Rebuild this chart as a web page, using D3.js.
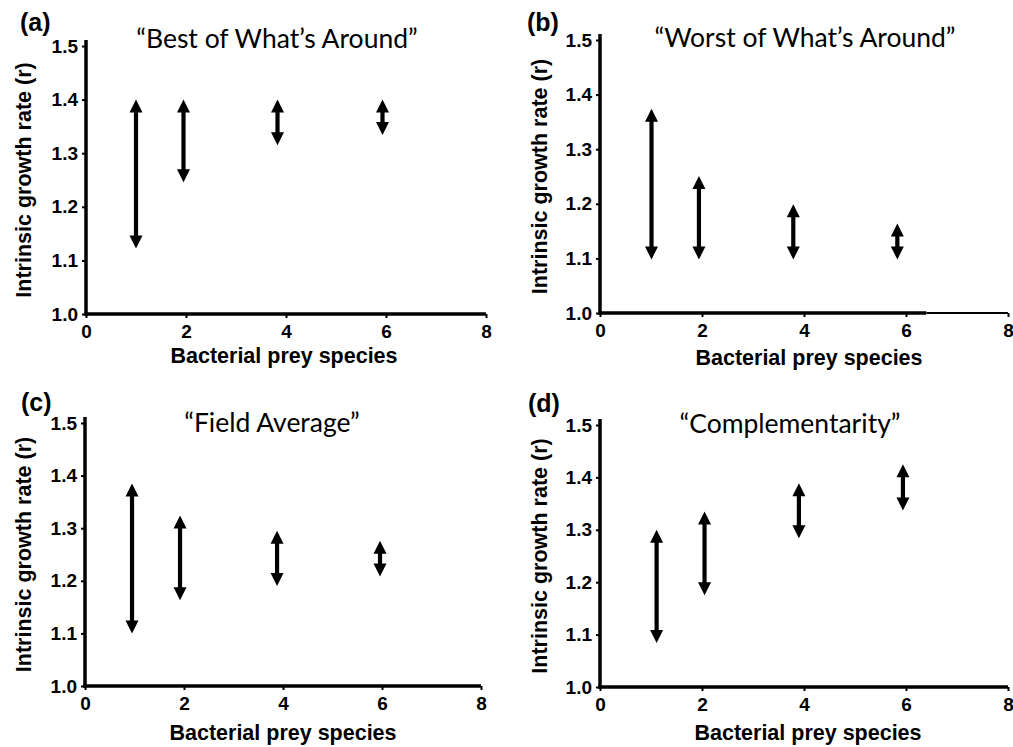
<!DOCTYPE html>
<html>
<head>
<meta charset="utf-8">
<script src="https://cdn.jsdelivr.net/npm/d3@7"></script>
<style>
  body { margin: 0; background: #fff; }
  svg { display: block; }
</style>
</head>
<body>
<svg id="chart" width="1013" height="747"></svg>
<script>
// x ticks / y ticks shared by all panels
const xTicks = [0, 2, 4, 6, 8];
const yTicks = [1.0, 1.1, 1.2, 1.3, 1.4, 1.5];

// (a) Best of what's around
const xA = [1.0, 1.95, 3.83, 5.93];
const lowA = [1.122, 1.246, 1.315, 1.334];
const highA = [1.40, 1.40, 1.40, 1.40];

// (b) Worst of what's around
const xB = [1.01, 1.94, 3.79, 5.83];
const lowB = [1.098, 1.098, 1.098, 1.098];
const highB = [1.374, 1.251, 1.199, 1.164];

// (c) Field average
const xC = [0.95, 1.92, 3.88, 5.96];
const lowC = [1.10, 1.163, 1.19, 1.208];
const highC = [1.385, 1.324, 1.295, 1.276];

// (d) Complementarity
const xD = [1.11, 2.05, 3.9, 5.94];
const lowD = [1.084, 1.175, 1.284, 1.337];
const highD = [1.30, 1.335, 1.389, 1.425];

const panels = [
  { tag: '(a)', title: '\u201cBest of What\u2019s Around\u201d', xs: xA, lo: lowA, hi: highA,
    x0: 86, x1: 486, y0: 314, y1: 46, tagX: 20, tagY: 31, titleX: 277, titleY: 48, ylabX: 31, xlabX: 284, xlabY: 363 },
  { tag: '(b)', title: '\u201cWorst of What\u2019s Around\u201d', xs: xB, lo: lowB, hi: highB,
    x0: 600, x1: 1008, y0: 313, y1: 40, tagX: 527, tagY: 31, titleX: 805, titleY: 47, ylabX: 547, xlabX: 809, xlabY: 365, thinFrom: 6.4 },
  { tag: '(c)', title: '\u201cField Average\u201d', xs: xC, lo: lowC, hi: highC,
    x0: 85, x1: 481, y0: 686, y1: 423, tagX: 21, tagY: 411, titleX: 272, titleY: 432, ylabX: 31, xlabX: 283, xlabY: 740 },
  { tag: '(d)', title: '\u201cComplementarity\u201d', xs: xD, lo: lowD, hi: highD,
    x0: 600, x1: 1008, y0: 687, y1: 425, tagX: 528, tagY: 412, titleX: 790, titleY: 433, ylabX: 547, xlabX: 808, xlabY: 740 }
];

const svg = d3.select('#chart');
const headLen = 13, headHalf = 6.5, shaft = 4.2;
const boldFont = 'Arial, "Liberation Sans", sans-serif';

panels.forEach(p => {
  const x = d3.scaleLinear().domain([0, 8]).range([p.x0, p.x1]);
  const y = d3.scaleLinear().domain([1.0, 1.5]).range([p.y0, p.y1]);
  const g = svg.append('g');

  // axes
  const gx = g.append('g')
    .attr('transform', `translate(0,${p.y0})`)
    .call(d3.axisBottom(x).tickValues(xTicks).tickFormat(d3.format('d')).tickSize(4).tickPadding(4).tickSizeOuter(0));
  const gy = g.append('g')
    .attr('transform', `translate(${p.x0},0)`)
    .call(d3.axisLeft(y).tickValues(yTicks).tickFormat(d3.format('.1f')).tickSize(4).tickPadding(4).tickSizeOuter(0));

  [gx, gy].forEach(a => {
    a.select('.domain').attr('stroke', '#000').attr('stroke-width', 3.5);
    a.selectAll('.tick line').attr('stroke', '#000').attr('stroke-width', 2);
    a.selectAll('.tick text')
      .attr('fill', '#000')
      .style('font-family', boldFont)
      .style('font-weight', 'bold')
      .style('font-size', '19px');
  });
  gx.selectAll('.tick text').attr('dy', '0.82em');
  gx.select('.domain').attr('d', `M${p.x0 - 1.75},0H${p.x1}`);
  gy.select('.domain').attr('d', `M0,${p.y0 + 1.75}V${p.y1 - 6}`);

  // panel b has a thinner tail on the x axis
  if (p.thinFrom) {
    gx.select('.domain').attr('d', `M${p.x0 - 1.75},0H${x(p.thinFrom)}`);
    gx.append('line').attr('x1', x(p.thinFrom)).attr('x2', p.x1)
      .attr('stroke', '#000').attr('stroke-width', 2.2);
  }

  // double-headed arrows
  const data = p.xs.map((v, i) => ({ x: v, lo: p.lo[i], hi: p.hi[i] }));
  const arr = g.selectAll('.arrow').data(data).join('g').attr('class', 'arrow');
  arr.append('line')
    .attr('x1', d => x(d.x)).attr('x2', d => x(d.x))
    .attr('y1', d => y(d.hi) + headLen - 1).attr('y2', d => y(d.lo) - headLen + 1)
    .attr('stroke', '#000').attr('stroke-width', shaft);
  arr.append('path')
    .attr('d', d => {
      const cx = x(d.x), t = y(d.hi), b = y(d.lo);
      return `M${cx},${t}L${cx + headHalf},${t + headLen}L${cx - headHalf},${t + headLen}Z` +
        `M${cx},${b}L${cx + headHalf},${b - headLen}L${cx - headHalf},${b - headLen}Z`;
    })
    .attr('fill', '#000');

  // text
  g.append('text').attr('x', p.tagX).attr('y', p.tagY).text(p.tag)
    .style('font-family', boldFont)
    .style('font-weight', 'bold').style('font-size', '25px').attr('fill', '#000');
  g.append('text').attr('x', p.titleX).attr('y', p.titleY).text(p.title)
    .attr('text-anchor', 'middle')
    .style('font-family', 'Lato, "Open Sans", sans-serif')
    .style('font-size', '26.5px').attr('fill', '#000');
  g.append('text')
    .attr('transform', `translate(${p.ylabX},${(p.y0 + p.y1) / 2}) rotate(-90)`)
    .attr('text-anchor', 'middle').text('Intrinsic growth rate (r)')
    .style('font-family', boldFont)
    .style('font-weight', 'bold').style('font-size', '21.5px').attr('fill', '#000');
  g.append('text').attr('x', p.xlabX).attr('y', p.xlabY)
    .attr('text-anchor', 'middle').text('Bacterial prey species')
    .style('font-family', boldFont)
    .style('font-weight', 'bold').style('font-size', '21.5px').attr('fill', '#000');
});
</script>
</body>
</html>
